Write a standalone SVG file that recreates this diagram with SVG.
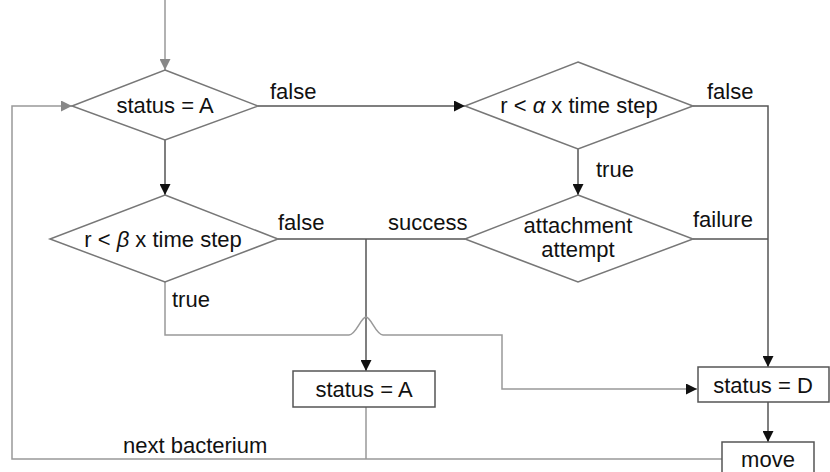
<svg xmlns="http://www.w3.org/2000/svg" width="830" height="472" viewBox="0 0 830 472">
<defs>
<marker id="ab" viewBox="0 0 10 10" refX="10" refY="5" markerWidth="11" markerHeight="11" markerUnits="userSpaceOnUse" orient="auto"><path d="M0,0 L10,5 L0,10 Z" fill="#111"/></marker>
<marker id="ag" viewBox="0 0 10 10" refX="10" refY="5" markerWidth="11" markerHeight="11" markerUnits="userSpaceOnUse" orient="auto"><path d="M0,0 L10,5 L0,10 Z" fill="#888"/></marker>
</defs>
<style>
text{font-family:"Liberation Sans",Arial,sans-serif;font-size:22px;fill:#111}
.c{text-anchor:middle}
.d{fill:#fff;stroke:#777;stroke-width:1.5}
.b{fill:#fff;stroke:#555;stroke-width:1.5}
.k{fill:none;stroke:#555;stroke-width:1.5}
.g{fill:none;stroke:#999;stroke-width:1.5}
</style>
<rect width="830" height="472" fill="#fff"/>
<g id="connectors">
<path class="g" d="M165,0 V70" marker-end="url(#ag)"/>
<path class="g" d="M722,459 H12 V106 H72" marker-end="url(#ag)"/>
<path class="k" d="M258,106 H465" marker-end="url(#ab)"/>
<path class="k" d="M693,106 H768 V367" marker-end="url(#ab)"/>
<path class="k" d="M693,239 H768"/>
<path class="k" d="M165,140 V195" marker-end="url(#ab)"/>
<path class="k" d="M578,149 V195" marker-end="url(#ab)"/>
<path class="k" d="M278,239 H465"/>
<path class="k" d="M366,239 V371" marker-end="url(#ab)"/>
<path class="g" d="M165,282 V335 H349 C356,335 361,317 366,317 C371,317 376,335 383,335 H502 V389 H697" marker-end="url(#ab)"/>
<path class="g" d="M366,407 V459"/>
<path class="k" d="M768,402 V442" marker-end="url(#ab)"/>
</g>
<g id="n1"><polygon class="d" points="165,70 258,106 165,140 72,106"/><text class="c" x="165" y="113">status = A</text></g>
<g id="n2"><polygon class="d" points="578,62 693,106 578,149 465,106"/><text class="c" x="579" y="113">r &lt; <tspan font-style="italic">α</tspan> x time step</text></g>
<g id="n3"><polygon class="d" points="165,195 278,239 165,282 50,239"/><text class="c" x="163" y="247">r &lt; <tspan font-style="italic">β</tspan> x time step</text></g>
<g id="n4"><polygon class="d" points="578,195 693,239 578,282 465,239"/><text class="c" x="578" y="233">attachment</text><text class="c" x="578" y="257">attempt</text></g>
<g id="n5"><rect class="b" x="293" y="371" width="142" height="36"/><text class="c" x="364" y="397">status = A</text></g>
<g id="n6"><rect class="b" x="698" y="367" width="131" height="35"/><text class="c" x="763" y="393">status = D</text></g>
<g id="n7"><rect class="b" x="722" y="442" width="92" height="34"/><text class="c" x="768" y="467">move</text></g>
<g id="labels">
<text x="270" y="99">false</text>
<text x="707" y="99">false</text>
<text x="596" y="177">true</text>
<text x="278" y="230">false</text>
<text x="388" y="230">success</text>
<text x="693" y="227">failure</text>
<text x="172" y="307">true</text>
<text x="123" y="453">next bacterium</text>
</g>
</svg>
